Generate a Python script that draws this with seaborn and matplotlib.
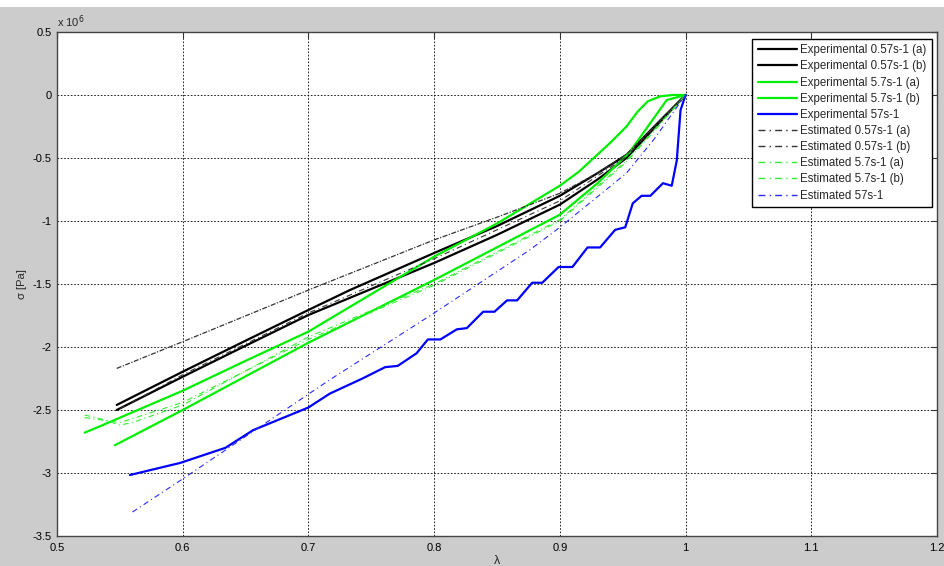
import matplotlib.pyplot as plt
import seaborn as sns
from matplotlib.patches import Rectangle


# -----------------------------
# DATA (sigma in units of 1e6 Pa)
# -----------------------------
exp_057a_lam = [0.5475, 0.6, 0.65, 0.7, 0.733, 0.8, 0.85, 0.9, 0.93, 0.953, 0.98, 1.0]
exp_057a_sig = [-2.46, -2.196, -1.95, -1.706, -1.548, -1.254, -1.04, -0.80, -0.62, -0.476, -0.20, 0.0]

exp_057b_lam = [0.5475, 0.6, 0.65, 0.7, 0.8, 0.85, 0.9, 0.93, 0.953, 0.98, 1.0]
exp_057b_sig = [-2.50, -2.236, -1.99, -1.746, -1.333, -1.11, -0.87, -0.67, -0.50, -0.21, 0.0]

exp_57a_lam = [0.522, 0.534, 0.6, 0.65, 0.7, 0.8, 0.85, 0.875, 0.9, 0.915, 0.94, 0.953,
               0.962, 0.97, 0.98, 0.99, 1.0]
exp_57a_sig = [-2.68, -2.63, -2.347, -2.11, -1.878, -1.283, -1.02, -0.87, -0.72, -0.61,
               -0.38, -0.25, -0.13, -0.05, -0.01, 0.0, 0.0]

exp_57b_lam = [0.546, 0.6, 0.7, 0.8, 0.9, 0.93, 0.955, 0.97, 0.985, 1.0]
exp_57b_sig = [-2.78, -2.50, -1.966, -1.468, -0.95, -0.70, -0.46, -0.25, -0.04, 0.0]

exp_570_lam = [0.558, 0.598, 0.634, 0.656, 0.70, 0.717, 0.743, 0.761, 0.771, 0.786, 0.795,
               0.805, 0.818, 0.826, 0.839, 0.848, 0.858, 0.866, 0.878, 0.886, 0.899, 0.910,
               0.922, 0.932, 0.944, 0.952, 0.958, 0.965, 0.972, 0.982, 0.989, 0.993, 0.996, 1.0]
exp_570_sig = [-3.016, -2.92, -2.80, -2.66, -2.48, -2.37, -2.25, -2.16, -2.15, -2.05, -1.94,
               -1.94, -1.86, -1.85, -1.72, -1.72, -1.63, -1.63, -1.49, -1.49, -1.365, -1.365,
               -1.21, -1.21, -1.07, -1.05, -0.86, -0.80, -0.80, -0.70, -0.72, -0.52, -0.12, 0.0]

est_057a_lam = [0.5475, 0.6, 0.7, 0.8, 0.85, 0.9, 0.93, 0.953, 0.98, 1.0]
est_057a_sig = [-2.17, -1.958, -1.548, -1.15, -0.97, -0.78, -0.62, -0.47, -0.20, 0.0]

est_057b_lam = [0.55, 0.6, 0.7, 0.8, 0.9, 0.953, 0.98, 1.0]
est_057b_sig = [-2.49, -2.22, -1.73, -1.30, -0.84, -0.49, -0.20, 0.0]

est_57a_lam = [0.522, 0.535, 0.55, 0.56, 0.6, 0.7, 0.8, 0.9, 0.953, 0.98, 1.0]
est_57a_sig = [-2.54, -2.57, -2.62, -2.60, -2.46, -1.92, -1.50, -0.99, -0.52, -0.22, 0.0]

est_57b_lam = [0.522, 0.55, 0.6, 0.7, 0.8, 0.9, 0.953, 0.98, 1.0]
est_57b_sig = [-2.56, -2.60, -2.44, -1.94, -1.51, -1.00, -0.53, -0.23, 0.0]

est_570_lam = [0.56, 0.598, 0.717, 0.797, 0.876, 0.9, 0.953, 0.975, 1.0]
est_570_sig = [-3.31, -3.06, -2.26, -1.75, -1.23, -1.05, -0.62, -0.35, 0.0]

x_ticks = [0.5, 0.6, 0.7, 0.8, 0.9, 1.0, 1.1, 1.2]
x_labels = ["0.5", "0.6", "0.7", "0.8", "0.9", "1", "1.1", "1.2"]
y_ticks = [0.5, 0, -0.5, -1, -1.5, -2, -2.5, -3, -3.5]
y_labels = ["0.5", "0", "-0.5", "-1", "-1.5", "-2", "-2.5", "-3", "-3.5"]


# -----------------------------
# STYLE
# -----------------------------
sns.set_style("white")
plt.rcParams["font.family"] = ["Liberation Sans", "DejaVu Sans"]

GREEN = "#00ee00"
BLUE = "#0000ff"
dashdot = (0, (5, 3, 1, 3))
dense_dashdot = (0, (4, 1.2, 1, 1.2))

fig = plt.figure(figsize=(9.45, 5.66), dpi=100, facecolor="#cccccc")
fig.patches.append(Rectangle((0, 1 - 7 / 566), 1, 7 / 566, transform=fig.transFigure,
                             facecolor="white", edgecolor="none"))
ax = fig.add_axes([57 / 945, 1 - 536 / 566, 880 / 945, 504 / 566])
ax.set_facecolor("white")

curves = [
    (exp_057a_lam, exp_057a_sig, "Experimental 0.57s-1 (a)", "black", "-", 1.6),
    (exp_057b_lam, exp_057b_sig, "Experimental 0.57s-1 (b)", "black", "-", 1.6),
    (exp_57a_lam, exp_57a_sig, "Experimental 5.7s-1 (a)", GREEN, "-", 1.6),
    (exp_57b_lam, exp_57b_sig, "Experimental 5.7s-1 (b)", GREEN, "-", 1.6),
    (exp_570_lam, exp_570_sig, "Experimental 57s-1", BLUE, "-", 1.6),
    (est_057a_lam, est_057a_sig, "Estimated 0.57s-1 (a)", "#333333", dense_dashdot, 0.9),
    (est_057b_lam, est_057b_sig, "Estimated 0.57s-1 (b)", "#333333", dashdot, 0.8),
    (est_57a_lam, est_57a_sig, "Estimated 5.7s-1 (a)", "#33ee33", dashdot, 0.8),
    (est_57b_lam, est_57b_sig, "Estimated 5.7s-1 (b)", "#33ee33", dashdot, 0.8),
    (est_570_lam, est_570_sig, "Estimated 57s-1", "#2a2aff", dashdot, 0.8),
]

for lam, sig, label, color, ls, lw in curves:
    sns.lineplot(x=lam, y=sig, ax=ax, label=label, color=color,
                 linestyle=ls, linewidth=lw, sort=False, estimator=None)


# -----------------------------
# AXES
# -----------------------------
ax.set_xlim(0.5, 1.2)
ax.set_ylim(-3.5, 0.5)
ax.set_xticks(x_ticks)
ax.set_xticklabels(x_labels)
ax.set_yticks(y_ticks)
ax.set_yticklabels(y_labels)

ax.grid(True, color="black", linestyle=(0, (2, 2)), linewidth=0.6)
ax.tick_params(direction="in", length=4, width=0.8, colors="#333333",
               labelsize=8, labelcolor="black", top=True, right=True)
ax.tick_params(axis="x", pad=5)
ax.tick_params(axis="y", pad=4)
for s in ax.spines.values():
    s.set_color("#444444")
    s.set_linewidth(1.0)

ax.set_xlabel("λ", fontsize=9)
ax.set_ylabel("σ [Pa]", fontsize=8)
ax.xaxis.set_label_coords(0.5, -0.038)
ax.yaxis.set_label_coords(-0.034, 0.5)

ax.text(0.0, 1.004, "x 10$^{6}$", transform=ax.transAxes, fontsize=8,
        ha="left", va="bottom")

# legend handles keep the same dash look for all estimated curves
leg = ax.legend(loc="upper right", bbox_to_anchor=(0.994, 0.986), borderaxespad=0,
                fontsize=8.3, frameon=True, fancybox=False, edgecolor="black",
                framealpha=1, handlelength=3.4, handletextpad=0.3,
                labelspacing=0.36, borderpad=0.45)
for h in leg.get_lines()[5:]:
    h.set_linestyle(dashdot)
    h.set_linewidth(1.0)

plt.savefig("out.png", dpi=100, facecolor=fig.get_facecolor())
